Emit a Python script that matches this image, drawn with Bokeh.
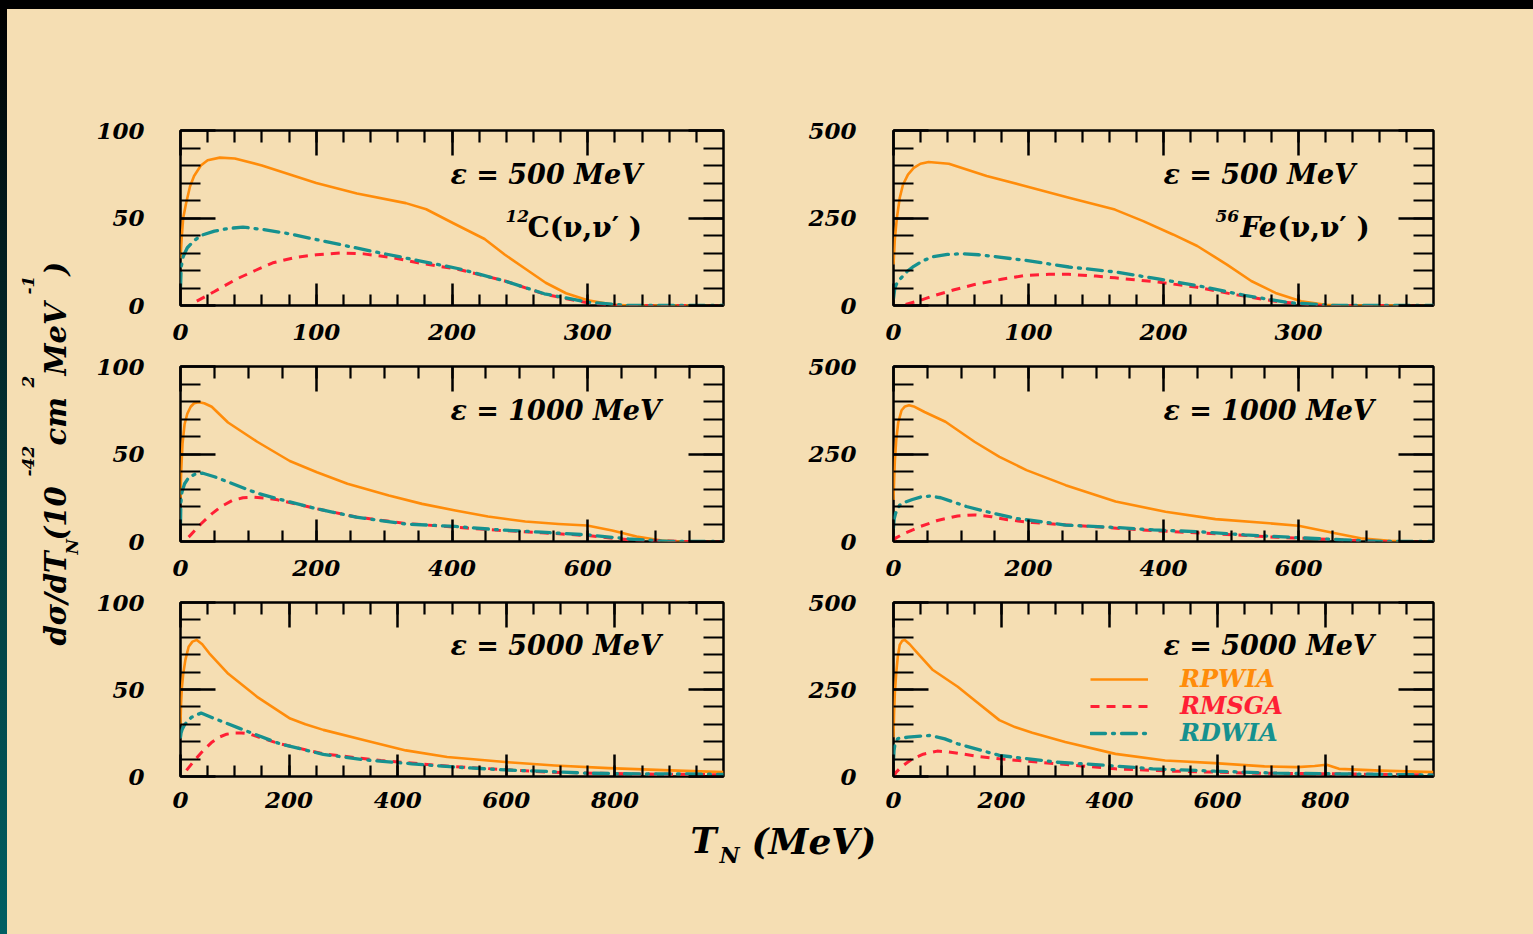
import numpy as np
from bokeh.plotting import figure
from bokeh.models import Label, Legend, LegendItem, FixedTicker, LinearAxis, Range1d, Div
from bokeh.layouts import row, column
from bokeh.embed import file_html
from bokeh.resources import INLINE

BG = "#F5DEB3"
FONT = "DejaVu Serif"
ORANGE = "#FF8C0A"
RED = "#FF1F35"
TEAL = "#16918F"

# ---------------- data: dσ/dT_N (10^-42 cm^2 MeV^-1) versus T_N (MeV) ----------------
# 12C(ν,ν'), ε = 500 MeV
c500_t_rpwia = [0, 1, 2, 4, 7, 10, 15, 20, 29, 40, 60, 80, 100, 130, 166, 181, 201, 224, 239, 254, 269, 284, 300, 318, 330, 400]
c500_rpwia = [27, 40, 50, 58, 68, 74, 80, 83, 84.5, 84, 80, 75, 70, 64, 58.5, 55, 47, 38, 29, 21, 13, 7, 3, 0.6, 0, 0]
c500_t_rmsga = [12, 25, 41, 55, 68, 85, 100, 118, 135, 155, 175, 205, 239, 269, 300, 320, 400]
c500_rmsga = [2.5, 8, 15, 20, 24.4, 27.5, 29, 30, 29.5, 27.5, 24.4, 20.6, 14, 6.3, 1.5, 0, 0]
c500_t_rdwia = [0, 0.5, 2, 5, 10, 15, 25, 35, 46, 60, 80, 100, 141, 175, 205, 239, 268, 300, 330, 400]
c500_rdwia = [10, 22, 28, 33, 37, 40, 42.5, 44, 44.8, 43.5, 41, 37.7, 31, 25.7, 21, 14, 6.7, 1.9, 0, 0]

# 56Fe(ν,ν'), ε = 500 MeV
fe500_t_rpwia = [0, 1, 2.5, 4.6, 7, 10.7, 15, 20, 26, 41, 69, 98, 130, 164, 185, 207, 225, 247, 265, 283, 302, 320, 335, 400]
fe500_rpwia = [117, 190, 250, 307, 345, 374, 393, 405, 410, 405, 370, 341, 308, 274, 241, 203, 170, 117, 70, 36, 12, 2, 0, 0]
fe500_t_rmsga = [9, 20, 29, 45, 60, 80, 98, 115, 130, 150, 164, 196, 225, 253, 283, 314, 400]
fe500_rmsga = [3, 15, 27, 45, 60, 75, 86, 89, 89, 84, 79, 67, 52, 31, 12, 0, 0]
fe500_t_rdwia = [0, 1, 3, 6, 10, 15, 22, 29, 40, 51, 63, 98, 130, 164, 196, 225, 260, 293, 326, 400]
fe500_rdwia = [20, 50, 68, 80, 97, 112, 128, 139, 146, 148, 145, 129, 110, 96, 76, 57, 29, 8, 0, 0]

# 12C(ν,ν'), ε = 1000 MeV
c1000_t_rpwia = [0, 1, 3, 6, 10, 15, 20, 27, 35, 46, 70, 113, 161, 201, 246, 307, 356, 405, 453, 508, 557, 599, 636, 672, 709, 733, 800]
c1000_rpwia = [25, 40, 56, 67, 73, 77, 79, 79.6, 79, 77, 68, 57, 46, 39.6, 33, 26.3, 21.5, 17.7, 14.3, 11.4, 10, 9.1, 6.3, 2.9, 0.6, 0, 0]
c1000_t_rmsga = [12, 30, 46, 60, 76, 92, 106, 125, 143, 170, 201, 259, 332, 405, 468, 532, 599, 660, 745, 800]
c1000_rmsga = [2.5, 10, 15.8, 20, 23.4, 25, 25.3, 24.8, 23.8, 21.5, 18.7, 14, 10.3, 8.2, 6.4, 5, 3.4, 1, 0, 0]
c1000_t_rdwia = [0, 0.5, 2, 6, 12, 24, 33, 50, 70, 113, 143, 201, 259, 332, 405, 468, 532, 599, 660, 721, 800]
c1000_rdwia = [10, 22, 28, 33, 36.5, 39, 39, 37, 34, 27.6, 24.4, 18.7, 13.9, 10, 8.6, 6.7, 5.3, 3.8, 1.5, 0, 0]

# 56Fe(ν,ν'), ε = 1000 MeV
fe1000_t_rpwia = [0, 1, 2, 4, 7, 12, 17, 23, 30, 46, 77, 120, 157, 197, 255, 329, 403, 477, 557, 600, 649, 692, 735, 760, 800]
fe1000_rpwia = [119, 180, 230, 289, 340, 375, 386, 389, 386, 370, 342, 285, 242, 204, 161, 114, 85, 64, 52, 45, 26, 9.5, 2, 0, 0]
fe1000_t_rmsga = [0, 3, 15, 40, 65, 95, 120, 145, 169, 206, 250, 292, 385, 477, 569, 662, 723, 800]
fe1000_rmsga = [0, 9.5, 22, 43, 60, 73, 76, 71, 62, 54, 48, 43, 31, 22, 12, 5, 0, 0]
fe1000_t_rdwia = [0, 1, 3, 9, 18, 28, 40, 54, 70, 108, 145, 182, 255, 329, 385, 452, 520, 588, 662, 723, 800]
fe1000_rdwia = [40, 65, 80, 104, 113, 120, 127, 130, 125, 100, 82, 66, 47, 40, 33, 28, 19, 12, 5, 0, 0]

# 12C(ν,ν'), ε = 5000 MeV
c5000_t_rpwia = [0, 1, 2.5, 5, 9, 15, 22, 30, 40, 53, 88, 141, 202, 230, 263, 339, 415, 491, 598, 689, 788, 902, 1000]
c5000_rpwia = [30, 42, 51, 59, 67, 74.6, 77.5, 78.5, 76, 70.8, 59, 45.8, 33.3, 30, 26.8, 20.8, 15, 11.2, 8.3, 6.3, 4.8, 3.5, 2.5]
c5000_t_rmsga = [11, 25, 42, 57, 72, 85, 99, 112, 126, 150, 183, 263, 369, 499, 674, 826, 1000]
c5000_rmsga = [3.5, 9, 15, 19.5, 22.7, 24.3, 25, 25, 24.6, 22, 18.8, 13, 9.2, 5.8, 2.5, 1.5, 1]
c5000_t_rdwia = [0, 1, 3, 8, 20, 38, 65, 110, 183, 263, 339, 426, 506, 598, 674, 750, 849, 925, 1000]
c5000_rdwia = [22.7, 25, 27, 30, 34, 36.5, 33, 27.5, 18.8, 12.7, 9.6, 7.3, 5.4, 3.8, 2.9, 1.9, 1.5, 1.5, 1.2]

# 56Fe(ν,ν'), ε = 5000 MeV
fe5000_t_rpwia = [0, 1, 2.5, 5, 8, 11.5, 16, 21, 30, 42, 73, 119, 150, 196, 225, 257, 318, 411, 503, 595, 687, 748, 780, 802, 825, 902, 1000]
fe5000_rpwia = [113, 180, 240, 296, 345, 378, 390, 392, 380, 359, 306, 258, 219, 162, 142, 126, 99, 65, 46, 38.5, 29, 27, 30, 34, 22, 17, 12.5]
fe5000_t_rmsga = [0, 5, 15, 35, 55, 81, 100, 119, 150, 196, 303, 411, 518, 672, 825, 978, 1000]
fe5000_rmsga = [0, 12.5, 28, 51, 64, 73, 71, 67, 59, 51, 36.5, 22, 15.4, 9.6, 7.7, 4.8, 4.5]
fe5000_t_rdwia = [0, 1, 3, 8, 27, 50, 69, 95, 119, 196, 303, 395, 480, 595, 710, 825, 978, 1000]
fe5000_rdwia = [45, 75, 95, 109, 113, 116, 118, 108, 94, 60.6, 41, 32, 22, 15.4, 9.6, 7.7, 4.8, 4]

# axis ticks
x_ticks_500 = [0, 100, 200, 300]
x_minor_500 = list(range(20, 400, 20))
x_ticks_1000 = [0, 200, 400, 600]
x_minor_1000 = list(range(50, 800, 50))
x_ticks_5000 = [0, 200, 400, 600, 800]
x_minor_5000 = list(range(50, 1000, 50))
y_ticks_c = [0, 50, 100]
y_minor_c = list(range(10, 100, 10))
y_ticks_fe = [0, 250, 500]
y_minor_fe = list(range(50, 500, 50))

energy_labels = ["ε = 500 MeV", "ε = 1000 MeV", "ε = 5000 MeV"]
model_names = ["RPWIA", "RMSGA", "RDWIA"]


def style_axis(ax, major, minor, tick_major, tick_minor, labels, standoff=0):
    ax.ticker = FixedTicker(ticks=major, minor_ticks=minor)
    ax.axis_line_color = None
    ax.major_tick_in = tick_major
    ax.major_tick_out = 0
    ax.minor_tick_in = tick_minor
    ax.minor_tick_out = 0
    ax.major_tick_line_color = "black"
    ax.minor_tick_line_color = "black"
    ax.major_tick_line_width = 2.5
    ax.minor_tick_line_width = 2.2
    if labels:
        ax.major_label_text_font = FONT
        ax.major_label_text_font_style = "bold italic"
        ax.major_label_text_font_size = "23px"
        ax.major_label_text_color = "black"
        ax.major_label_standoff = standoff
    else:
        # mirrored tick marks only, no numbers
        ax.major_label_text_color = None
        ax.major_label_text_font_size = "1px"
        ax.major_label_standoff = 0


def make_panel(xmax, ymax, xt, xm, yt, ym, curves, borders, frame, xlab_standoff, ylab_standoff):
    left, right, top, bottom = borders
    fw, fh = frame
    p = figure(width=left + fw + right, height=top + fh + bottom,
               x_range=Range1d(0, xmax), y_range=Range1d(0, ymax),
               output_backend="svg", toolbar_location=None, title=None,
               min_border_left=left, min_border_right=right,
               min_border_top=top, min_border_bottom=bottom,
               background_fill_color=BG, border_fill_color=BG,
               outline_line_color="black", outline_line_width=2.5)
    p.grid.visible = False
    style_axis(p.xaxis[0], xt, xm, 22, 11, True, xlab_standoff)
    style_axis(p.yaxis[0], yt, ym, 35, 20, True, ylab_standoff)
    ax_top = LinearAxis()
    style_axis(ax_top, xt, xm, 25, 12, False)
    p.add_layout(ax_top, "above")
    ax_right = LinearAxis()
    style_axis(ax_right, yt, ym, 35, 20, False)
    p.add_layout(ax_right, "right")

    (t1, v1), (t2, v2), (t3, v3) = curves
    r1 = p.line(t1, v1, line_color=ORANGE, line_width=2.6, line_join="round")
    r2 = p.line(t2, v2, line_color=RED, line_width=3, line_dash="9 7")
    r3 = p.line(t3, v3, line_color=TEAL, line_width=3.3, line_dash="15 7 2 7", line_cap="round")
    return p, (r1, r2, r3)


def add_text(p, x, y, text, size, style="bold italic", color="black", align="left", baseline="middle", angle=0):
    p.add_layout(Label(x=x, y=y, x_units="screen", y_units="screen", text=text,
                       text_font=FONT, text_font_style=style, text_font_size=size,
                       text_color=color, text_align=align, text_baseline=baseline, angle=angle))


# (left, right, top, bottom) borders and frame sizes, in pixels
L_BORDERS = [(90, 77, 121, 47), (90, 77, 14, 47), (90, 77, 14, 42)]
R_BORDERS = [(93, 100, 121, 47), (93, 100, 14, 47), (93, 100, 14, 42)]
L_FRAMES = [(543, 175), (543, 175), (543, 174)]
R_FRAMES = [(540, 175), (540, 175), (540, 174)]
X_STANDOFF = [18, 18, 15]

p1, _ = make_panel(400, 100, x_ticks_500, x_minor_500, y_ticks_c, y_minor_c,
                   [(c500_t_rpwia, c500_rpwia), (c500_t_rmsga, c500_rmsga), (c500_t_rdwia, c500_rdwia)],
                   L_BORDERS[0], L_FRAMES[0], X_STANDOFF[0], 36)
p2, _ = make_panel(400, 500, x_ticks_500, x_minor_500, y_ticks_fe, y_minor_fe,
                   [(fe500_t_rpwia, fe500_rpwia), (fe500_t_rmsga, fe500_rmsga), (fe500_t_rdwia, fe500_rdwia)],
                   R_BORDERS[0], R_FRAMES[0], X_STANDOFF[0], 37)
p3, _ = make_panel(800, 100, x_ticks_1000, x_minor_1000, y_ticks_c, y_minor_c,
                   [(c1000_t_rpwia, c1000_rpwia), (c1000_t_rmsga, c1000_rmsga), (c1000_t_rdwia, c1000_rdwia)],
                   L_BORDERS[1], L_FRAMES[1], X_STANDOFF[1], 36)
p4, _ = make_panel(800, 500, x_ticks_1000, x_minor_1000, y_ticks_fe, y_minor_fe,
                   [(fe1000_t_rpwia, fe1000_rpwia), (fe1000_t_rmsga, fe1000_rmsga), (fe1000_t_rdwia, fe1000_rdwia)],
                   R_BORDERS[1], R_FRAMES[1], X_STANDOFF[1], 37)
p5, _ = make_panel(1000, 100, x_ticks_5000, x_minor_5000, y_ticks_c, y_minor_c,
                   [(c5000_t_rpwia, c5000_rpwia), (c5000_t_rmsga, c5000_rmsga), (c5000_t_rdwia, c5000_rdwia)],
                   L_BORDERS[2], L_FRAMES[2], X_STANDOFF[2], 36)
p6, rends = make_panel(1000, 500, x_ticks_5000, x_minor_5000, y_ticks_fe, y_minor_fe,
                       [(fe5000_t_rpwia, fe5000_rpwia), (fe5000_t_rmsga, fe5000_rmsga), (fe5000_t_rdwia, fe5000_rdwia)],
                       R_BORDERS[2], R_FRAMES[2], X_STANDOFF[2], 37)

# beam energy in each panel
for p, lab in [(p1, energy_labels[0]), (p2, energy_labels[0]), (p3, energy_labels[1]),
               (p4, energy_labels[1]), (p5, energy_labels[2]), (p6, energy_labels[2])]:
    add_text(p, 270, 131, lab, "27px")

# reaction labels
add_text(p1, 325, 90, "12", "17px")
add_text(p1, 347, 78, "C(ν,ν′ )", "28px", style="bold")
add_text(p2, 322, 90, "56", "17px")
add_text(p2, 347, 78, "Fe", "28px")
add_text(p2, 384, 78, "(ν,ν′ )", "28px", style="bold")

# legend: one entry per model so each label keeps its line colour
for i, (name, r, col) in enumerate(zip(model_names, rends, [ORANGE, RED, TEAL])):
    lg = Legend(items=[LegendItem(label=name, renderers=[r])], location=(197, 83 - 27 * i),
                background_fill_alpha=0, border_line_color=None, padding=0, margin=0, spacing=0,
                glyph_width=58, glyph_height=20, label_height=20, label_standoff=32,
                label_text_color=col, label_text_font=FONT, label_text_font_style="bold italic",
                label_text_font_size="24px")
    p6.add_layout(lg)

# y-axis title (rotated), built from pieces for sub/superscripts
ylab = figure(width=83, height=925, x_range=Range1d(0, 1), y_range=Range1d(0, 1),
              x_axis_type=None, y_axis_type=None, min_border=0, outline_line_color=None,
              background_fill_color=BG, border_fill_color=BG, toolbar_location=None,
              output_backend="svg", title=None)
Y0 = 289
X_MAIN, X_SUP, X_SUB = 48, 20, 64
ypieces = [("dσ/dT", 0, "29px", X_MAIN), ("N", 91, "17px", X_SUB), (" (10", 105, "29px", X_MAIN),
           ("-42", 169, "17px", X_SUP), (" cm", 200, "29px", X_MAIN), ("2", 258, "17px", X_SUP),
           (" MeV", 270, "29px", X_MAIN), ("-1", 351, "17px", X_SUP), (" )", 370, "29px", X_MAIN)]
for txt, off, size, xx in ypieces:
    add_text(ylab, xx, Y0 + off, txt, size, angle=np.pi / 2)

# x-axis title
xlab = figure(width=1443, height=116, x_range=Range1d(0, 1), y_range=Range1d(0, 1),
              x_axis_type=None, y_axis_type=None, min_border=0, outline_line_color=None,
              background_fill_color=BG, border_fill_color=BG, toolbar_location=None,
              output_backend="svg", title=None)
add_text(xlab, 600, 94, "T", "35px")
add_text(xlab, 629, 80, "N", "22px")
add_text(xlab, 661, 94, "(MeV)", "36px")

top_bar = Div(text="", width=1533, height=9, margin=0, styles={"background-color": "#000000"})
left_strip = Div(text="", width=7, height=925, margin=0,
                 styles={"background": "linear-gradient(to bottom, #000000, #021c1e 25%, #03393b 55%, #005f63)"})

BGS = {"background-color": BG}
grid = column(row(p1, p2, styles=BGS), row(p3, p4, styles=BGS), row(p5, p6, styles=BGS), xlab, styles=BGS)
root = column(top_bar, row(left_strip, row(ylab, grid, styles=BGS)),
              styles={"background-color": BG})

open("out.html", "w").write(file_html(root, INLINE, title="dsigma/dT_N"))
